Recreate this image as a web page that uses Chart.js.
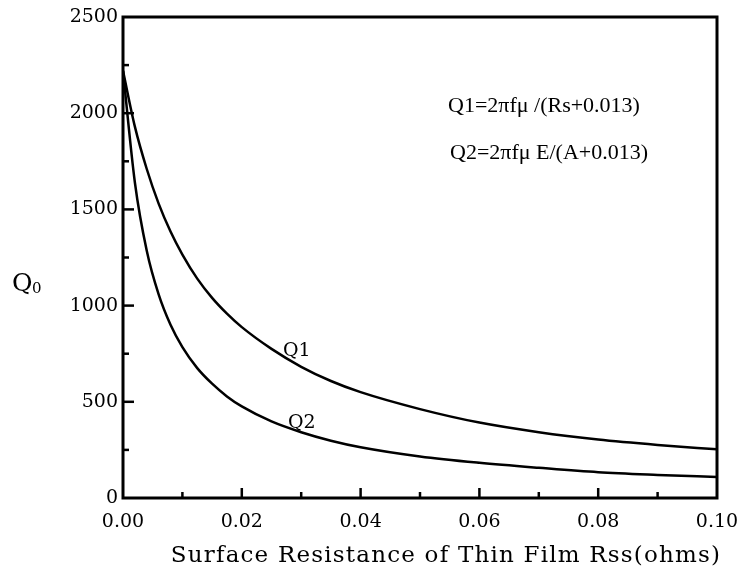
<!DOCTYPE html>
<html><head><meta charset="utf-8">
<script src="https://cdn.jsdelivr.net/npm/chart.js@4/dist/chart.umd.min.js"></script>
<style>html,body{margin:0;padding:0;background:#fff}#wrap{width:745px;height:573px}</style>
</head><body><div id="wrap"><canvas id="c" width="745" height="573"></canvas></div>
<script>
// Surface resistance Rss (ohms)
const rss = [0, 0.002, 0.004, 0.006, 0.008, 0.010, 0.0125, 0.015, 0.0175, 0.020, 0.025, 0.030, 0.035, 0.040, 0.050, 0.060, 0.070, 0.080, 0.090, 0.100];
// Q1 = 2πfμ/(Rs+0.013)
const q1 = [2220, 1930, 1710, 1530, 1385, 1265, 1140, 1040, 958, 888, 775, 682, 608, 550, 462, 392, 342, 304, 276, 253];
// Q2 = 2πfμE/(A+0.013)
const q2 = [2220, 1640, 1285, 1058, 900, 784, 675, 594, 528, 476, 398, 342, 298, 264, 216, 183, 157, 134, 120, 109];

const xTicks = [0, 0.02, 0.04, 0.06, 0.08, 0.10];
const xTickLabels = ['0.00', '0.02', '0.04', '0.06', '0.08', '0.10'];
const yTicks = [0, 500, 1000, 1500, 2000, 2500];
const xMinorStep = 0.01;
const yMinorStep = 250;

const xTitle = 'Surface Resistance of Thin Film Rss(ohms)';
const yTitleMain = 'Q';
const yTitleSub = '0';
const formula1 = 'Q1=2πfμ /(Rs+0.013)';
const formula2 = 'Q2=2πfμ E/(A+0.013)';
const curveLabel1 = 'Q1';
const curveLabel2 = 'Q2';

const pts = (xs, ys) => xs.map((x, i) => ({x: x, y: ys[i]}));

const framePlugin = {
  id: 'framePlugin',
  afterDraw(chart) {
    const ctx = chart.ctx, a = chart.chartArea;
    const xs = chart.scales.x, ys = chart.scales.y;
    ctx.save();
    ctx.strokeStyle = '#000';
    ctx.lineWidth = 3;
    ctx.strokeRect(a.left, a.top, a.right - a.left, a.bottom - a.top);
    ctx.lineWidth = 2.5;
    for (let i = 1; i * xMinorStep < xs.max - 1e-9; i++) {
      const px = xs.getPixelForValue(i * xMinorStep);
      const len = (i % 2 === 0) ? 10 : 6;
      ctx.beginPath(); ctx.moveTo(px, a.bottom); ctx.lineTo(px, a.bottom - len); ctx.stroke();
    }
    for (let i = 1; i * yMinorStep < ys.max - 1e-9; i++) {
      const py = ys.getPixelForValue(i * yMinorStep);
      const len = (i % 2 === 0) ? 11 : 6;
      ctx.beginPath(); ctx.moveTo(a.left, py); ctx.lineTo(a.left + len, py); ctx.stroke();
    }
    ctx.fillStyle = '#000';
    ctx.textBaseline = 'alphabetic';
    ctx.textAlign = 'center';
    ctx.font = '23px "DejaVu Serif"';
    ctx.letterSpacing = '1.2px';
    ctx.fillText(xTitle, 446, 562);
    ctx.letterSpacing = '0px';
    ctx.textAlign = 'left';
    ctx.font = '25px "DejaVu Serif"';
    ctx.fillText(yTitleMain, 12, 291);
    ctx.font = '15px "DejaVu Serif"';
    ctx.fillText(yTitleSub, 32, 293);
    ctx.font = '22px "Liberation Serif"';
    ctx.fillText(formula1, 448, 112);
    ctx.fillText(formula2, 450, 159);
    ctx.font = '19px "DejaVu Serif"';
    ctx.fillText(curveLabel1, 283, 356);
    ctx.fillText(curveLabel2, 288, 428);
    ctx.restore();
  }
};

new Chart(document.getElementById('c'), {
  type: 'line',
  data: {
    datasets: [
      {label: 'Q1', data: pts(rss, q1), borderColor: '#000', borderWidth: 2.5, pointRadius: 0, fill: false, cubicInterpolationMode: 'monotone'},
      {label: 'Q2', data: pts(rss, q2), borderColor: '#000', borderWidth: 2.5, pointRadius: 0, fill: false, cubicInterpolationMode: 'monotone'}
    ]
  },
  options: {
    responsive: false,
    animation: false,
    devicePixelRatio: 1,
    layout: {padding: {top: 17, right: 28, left: 0, bottom: 0}},
    plugins: {legend: {display: false}, tooltip: {enabled: false}},
    scales: {
      x: {
        type: 'linear', min: 0, max: 0.1,
        afterBuildTicks: s => { s.ticks = xTicks.map(v => ({value: v})); },
        afterFit: s => { s.height = 75; },
        grid: {display: false},
        border: {display: false},
        ticks: {color: '#000', padding: 5, maxRotation: 0, font: {family: 'DejaVu Serif', size: 19},
                callback: (v, i) => xTickLabels[i]}
      },
      y: {
        type: 'linear', min: 0, max: 2500,
        afterBuildTicks: s => { s.ticks = yTicks.map(v => ({value: v})); },
        afterFit: s => { s.width = 123; },
        grid: {display: false},
        border: {display: false},
        ticks: {color: '#000', padding: -3, font: {family: 'DejaVu Serif', size: 19},
                callback: v => String(v)}
      }
    }
  },
  plugins: [framePlugin]
});
</script></body></html>
